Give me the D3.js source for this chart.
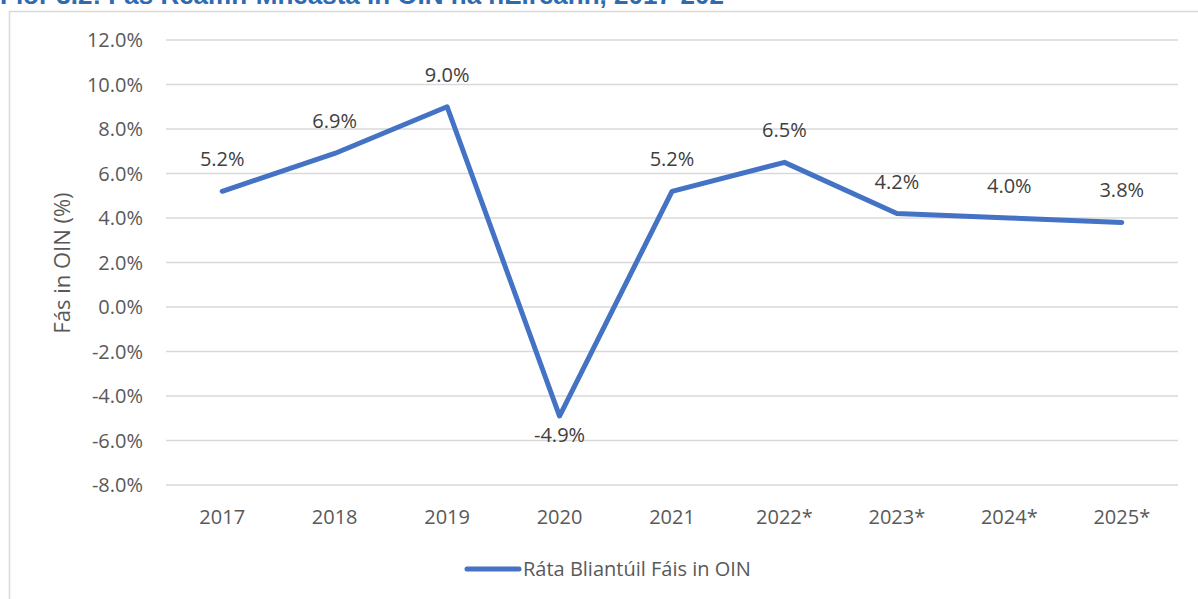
<!DOCTYPE html>
<html lang="en">
<head>
<meta charset="UTF-8" />
<title>Fás in OIN</title>
<script src="https://d3js.org/d3.v7.min.js"></script>
<style>
  body { margin: 0; padding: 0; background: #fff; font-family: "Open Sans", "Liberation Sans", sans-serif; }
</style>
</head>
<body>
<div id="chart"></div>
<script>
  // Data
  const years = ["2017", "2018", "2019", "2020", "2021", "2022*", "2023*", "2024*", "2025*"];
  const growth = [5.2, 6.9, 9.0, -4.9, 5.2, 6.5, 4.2, 4.0, 3.8];
  const yTicks = [-8, -6, -4, -2, 0, 2, 4, 6, 8, 10, 12];
  const labelBelow = ["2020"];

  const width = 1198, height = 599;
  const margin = { left: 166, right: 20, top: 40, bottom: 114 };

  const svg = d3.select("#chart").append("svg")
    .attr("width", width).attr("height", height);

  // Title, cut off at the top edge as in the source image
  svg.append("text")
    .attr("x", 0).attr("y", 4)
    .style("font-family", "'Liberation Sans', sans-serif")
    .style("font-weight", "bold")
    .style("font-size", "26px")
    .style("fill", "#2e6bb0")
    .text("Fíor 3.2: Fás Réamh-Mheasta in OIN na hÉireann, 2017-202");

  // Chart frame
  svg.append("rect")
    .attr("x", 9.5).attr("y", 11.5)
    .attr("width", 1200).attr("height", 600)
    .attr("fill", "none").attr("stroke", "#d9d9d9").attr("stroke-width", 1.5);

  const x = d3.scalePoint()
    .domain(years)
    .range([margin.left, width - margin.right])
    .padding(0.5);

  const y = d3.scaleLinear()
    .domain([-8, 12])
    .range([485, 40]);

  // Gridlines
  svg.append("g")
    .selectAll("line")
    .data(yTicks)
    .join("line")
    .attr("x1", margin.left).attr("x2", width - margin.right)
    .attr("y1", d => y(d)).attr("y2", d => y(d))
    .attr("stroke", "#d9d9d9").attr("stroke-width", 1.5);

  // Y tick labels
  svg.append("g")
    .selectAll("text")
    .data(yTicks)
    .join("text")
    .attr("x", 143).attr("y", d => y(d))
    .attr("dy", "0.35em")
    .attr("text-anchor", "end")
    .style("font-size", "20px")
    .style("fill", "#595959")
    .text(d => d.toFixed(1) + "%");

  // X tick labels
  svg.append("g")
    .selectAll("text")
    .data(years)
    .join("text")
    .attr("x", d => x(d)).attr("y", 517)
    .attr("dy", "0.35em")
    .attr("text-anchor", "middle")
    .style("font-size", "20px")
    .style("fill", "#595959")
    .text(d => d);

  // Y axis title
  svg.append("text")
    .attr("transform", "translate(62,263) rotate(-90)")
    .attr("text-anchor", "middle")
    .attr("dy", "0.35em")
    .style("font-size", "22px")
    .style("fill", "#595959")
    .text("Fás in OIN (%)");

  const pts = years.map((yr, i) => ({ yr, v: growth[i] }));

  // Line
  svg.append("path")
    .datum(pts)
    .attr("fill", "none")
    .attr("stroke", "#4472c4")
    .attr("stroke-width", 5)
    .attr("stroke-linejoin", "round")
    .attr("stroke-linecap", "round")
    .attr("d", d3.line().x(d => x(d.yr)).y(d => y(d.v)));

  // Data labels
  svg.append("g")
    .selectAll("text")
    .data(pts)
    .join("text")
    .attr("x", d => x(d.yr))
    .attr("y", d => labelBelow.includes(d.yr) ? y(d.v) + 19 : y(d.v) - 32)
    .attr("dy", "0.35em")
    .attr("text-anchor", "middle")
    .style("font-size", "20px")
    .style("fill", "#404040")
    .text(d => d.v.toFixed(1) + "%");

  // Legend
  svg.append("line")
    .attr("x1", 467).attr("x2", 519)
    .attr("y1", 569).attr("y2", 569)
    .attr("stroke", "#4472c4").attr("stroke-width", 5)
    .attr("stroke-linecap", "round");
  svg.append("text")
    .attr("x", 523).attr("y", 569)
    .attr("dy", "0.35em")
    .style("font-size", "20px")
    .style("fill", "#595959")
    .text("Ráta Bliantúil Fáis in OIN");
</script>
</body>
</html>
